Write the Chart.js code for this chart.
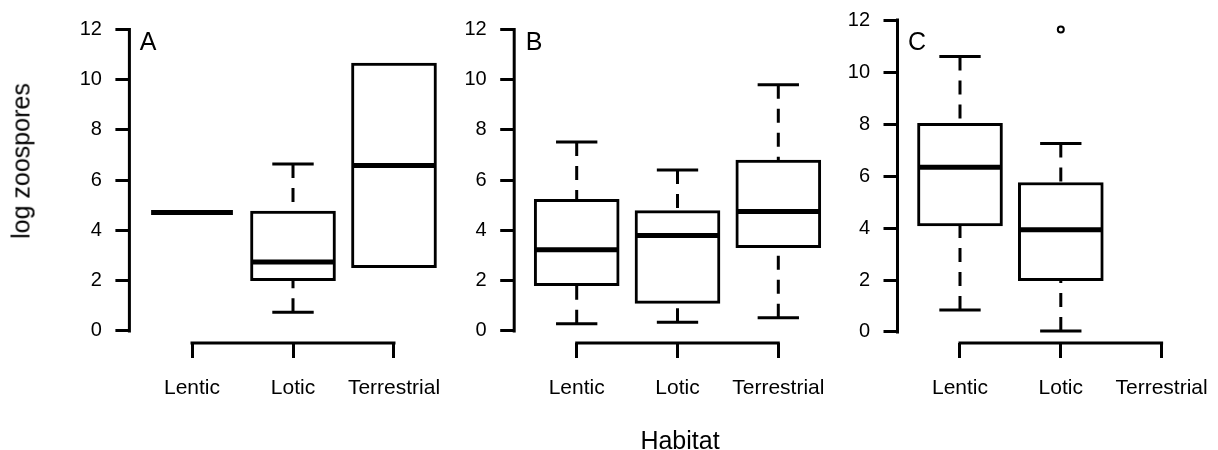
<!DOCTYPE html>
<html>
<head>
<meta charset="utf-8">
<script src="https://cdn.jsdelivr.net/npm/chart.js@4.4.1/dist/chart.umd.min.js"></script>
<style>
  html, body { margin: 0; padding: 0; background: #fff; overflow: hidden; }
  #wrap { position: relative; width: 1218px; height: 450px; overflow: hidden; font-family: 'Liberation Sans', Arial, sans-serif; color: #000; }
  #wrap canvas { position: absolute; left: 0; top: 0; }
  .lbl { position: absolute; font-size: 25px; line-height: 1; white-space: nowrap; transform: translate(-50%, -50%); }
</style>
</head>
<body>
<div id="wrap">
  <canvas id="panelA" width="1240" height="450"></canvas>
  <canvas id="panelB" width="1240" height="450"></canvas>
  <canvas id="panelC" width="1240" height="450"></canvas>
  <div class="lbl" style="left:21px;top:161px;transform:translate(-50%,-50%) rotate(-90deg)">log zoospores</div>
  <div class="lbl" style="left:680px;top:440px">Habitat</div>
  <div class="lbl" style="left:148px;top:41px">A</div>
  <div class="lbl" style="left:534px;top:41px">B</div>
  <div class="lbl" style="left:917px;top:41px">C</div>
</div>
<script>
// categorias e ticks
const habitats = ['Lentic', 'Lotic', 'Terrestrial'];
const yTickValues = [0, 2, 4, 6, 8, 10, 12];

// painel A (lower whisker, Q1, mediana, Q3, upper whisker)
const aLower  = [4.71, 0.74, 2.52];
const aQ1     = [4.71, 2.00, 2.52];
const aMedian = [4.71, 2.74, 6.59];
const aQ3     = [4.71, 4.77, 10.66];
const aUpper  = [4.71, 6.64, 10.66];
const aOutliers = [[], [], []];

// painel B
const bLower  = [0.29, 0.35, 0.53];
const bQ1     = [1.80, 1.10, 3.31];
const bMedian = [3.23, 3.80, 4.75];
const bQ3     = [5.24, 4.79, 6.80];
const bUpper  = [7.52, 6.41, 9.80];
const bOutliers = [[], [], []];

// painel C (sem dados para Terrestrial)
const cLower  = [0.85, 0.04, null];
const cQ1     = [4.08, 1.97, null];
const cMedian = [6.34, 3.93, null];
const cQ3     = [8.03, 5.75, null];
const cUpper  = [10.60, 7.25, null];
const cOutliers = [[], [11.64], []];

// desenha medianas, whiskers e eixos no estilo do R
const boxExtras = {
    id: 'boxExtras',
    afterDatasetsDraw(chart, args, opts) {
        const { ctx, chartArea } = chart;
        const x = chart.scales.x, y = chart.scales.y;
        const s = opts.stats;
        ctx.save();
        ctx.strokeStyle = '#000';

        // eixos
        ctx.lineWidth = 3;
        ctx.lineCap = 'square';
        ctx.beginPath();
        ctx.moveTo(chartArea.left, y.getPixelForValue(yTickValues[0]));
        ctx.lineTo(chartArea.left, y.getPixelForValue(yTickValues[yTickValues.length - 1]));
        ctx.moveTo(x.getPixelForValue(1), chartArea.bottom);
        ctx.lineTo(x.getPixelForValue(habitats.length), chartArea.bottom);
        ctx.stroke();

        ctx.lineCap = 'butt';
        s.median.forEach((med, i) => {
            if (med === null) return;
            const cx = x.getPixelForValue(i + 1);
            const capL = x.getPixelForValue(i + 1 - 0.205), capR = x.getPixelForValue(i + 1 + 0.205);
            const boxL = x.getPixelForValue(i + 1 - 0.405), boxR = x.getPixelForValue(i + 1 + 0.405);

            // whiskers tracejados, do fim até a caixa
            ctx.lineWidth = 3;
            ctx.setLineDash([14, 10]);
            ctx.beginPath();
            if (s.lower[i] < s.q1[i]) {
                ctx.moveTo(cx, y.getPixelForValue(s.lower[i]));
                ctx.lineTo(cx, y.getPixelForValue(s.q1[i]));
            }
            if (s.upper[i] > s.q3[i]) {
                ctx.moveTo(cx, y.getPixelForValue(s.upper[i]));
                ctx.lineTo(cx, y.getPixelForValue(s.q3[i]));
            }
            ctx.stroke();

            // caps
            ctx.setLineDash([]);
            ctx.beginPath();
            if (s.lower[i] < s.q1[i]) {
                const py = y.getPixelForValue(s.lower[i]);
                ctx.moveTo(capL, py); ctx.lineTo(capR, py);
            }
            if (s.upper[i] > s.q3[i]) {
                const py = y.getPixelForValue(s.upper[i]);
                ctx.moveTo(capL, py); ctx.lineTo(capR, py);
            }
            ctx.stroke();

            // mediana
            ctx.lineWidth = 5;
            ctx.beginPath();
            const my = y.getPixelForValue(med);
            ctx.moveTo(boxL, my); ctx.lineTo(boxR, my);
            ctx.stroke();
        });
        ctx.restore();
    }
};

function makePanel(canvasId, stats, outliers, yMin, yMax, areaLeft, areaRight) {
    const yScaleWidth = 90, xScaleHeight = 80;
    const boxes = habitats
        .map((h, i) => ({ x: i + 1, y: [stats.q1[i], stats.q3[i]] }))
        .filter(d => d.y[0] !== null && d.y[0] !== d.y[1]);
    const points = [];
    outliers.forEach((list, i) => list.forEach(v => points.push({ x: i + 1, y: v })));

    const ctx = document.getElementById(canvasId).getContext('2d');
    return new Chart(ctx, {
        type: 'bar',
        data: {
            datasets: [{
                type: 'bar',
                data: boxes,
                backgroundColor: '#fff',
                borderColor: '#000',
                borderWidth: 3,
                borderSkipped: false,
                barThickness: 85
            }, {
                type: 'scatter',
                data: points,
                pointStyle: 'circle',
                pointRadius: 3,
                borderWidth: 2,
                borderColor: '#000',
                backgroundColor: '#fff'
            }]
        },
        options: {
            responsive: false,
            animation: false,
            devicePixelRatio: 1,
            layout: {
                padding: { left: areaLeft - yScaleWidth, right: 1240 - areaRight, top: 17.4, bottom: 450 - 343 - xScaleHeight }
            },
            plugins: {
                legend: { display: false },
                tooltip: { enabled: false },
                boxExtras: { stats: stats }
            },
            scales: {
                x: {
                    type: 'linear',
                    min: 0.38,
                    max: 3.62,
                    offset: false,
                    afterBuildTicks: sc => { sc.ticks = habitats.map((h, i) => ({ value: i + 1 })); },
                    afterFit: sc => { sc.height = xScaleHeight; sc.paddingLeft = 0; sc.paddingRight = 0; },
                    border: { display: false },
                    grid: { offset: false, drawOnChartArea: false, drawTicks: true, tickLength: 15, tickWidth: 3, tickColor: '#000' },
                    ticks: {
                        autoSkip: false,
                        maxRotation: 0,
                        padding: 18,
                        color: '#000',
                        font: { family: "'Liberation Sans', Arial, sans-serif", size: 21 },
                        callback: (v, i) => habitats[i]
                    }
                },
                y: {
                    type: 'linear',
                    min: yMin,
                    max: yMax,
                    afterBuildTicks: sc => { sc.ticks = yTickValues.map(v => ({ value: v })); },
                    afterFit: sc => { sc.width = yScaleWidth; sc.paddingTop = 0; sc.paddingBottom = 0; },
                    border: { display: false },
                    grid: { drawOnChartArea: false, drawTicks: true, tickLength: 14, tickWidth: 3, tickColor: '#000' },
                    ticks: {
                        padding: 13.5,
                        color: '#000',
                        font: { family: "'Liberation Sans', Arial, sans-serif", size: 20 }
                    }
                }
            }
        },
        plugins: [boxExtras]
    });
}

makePanel('panelA', { lower: aLower, q1: aQ1, median: aMedian, q3: aQ3, upper: aUpper }, aOutliers, -0.48, 12.48, 129.4, 456.6);
makePanel('panelB', { lower: bLower, q1: bQ1, median: bMedian, q3: bQ3, upper: bUpper }, bOutliers, -0.48, 12.48, 514.2, 840.8);
makePanel('panelC', { lower: cLower, q1: cQ1, median: cMedian, q3: cQ3, upper: cUpper }, cOutliers, -0.424, 12.104, 897.5, 1224.1);
</script>
</body>
</html>
